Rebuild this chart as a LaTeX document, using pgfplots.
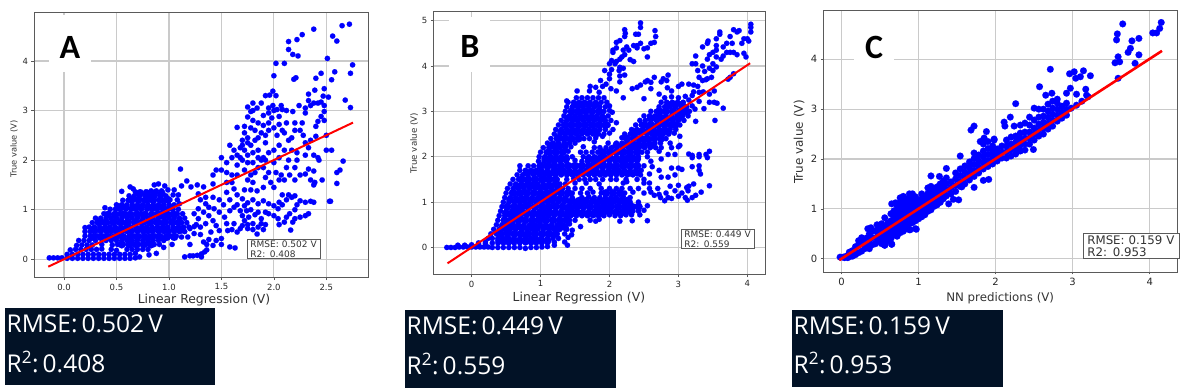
\documentclass[border=0pt]{standalone}
\usepackage{pgfplots}
\pgfplotsset{compat=1.18}
\usepackage{fontspec}
\setmainfont{DejaVu Sans}
\newfontfamily\letterfont{Carlito}
\newfontfamily\boxfont{Open Sans}
\definecolor{navy}{HTML}{021226}
\definecolor{gridc}{HTML}{CACACA}
\definecolor{framec}{HTML}{5A5A5A}
\pgfplotsset{
  base/.style={scale only axis,grid=major,clip mode=individual,
    major grid style={gridc,line width=1.2pt},
    axis line style={framec,line width=0.9pt},
    tick style={framec,line width=0.6pt},
    tick align=outside,major tick length=2.5pt,
    xtick pos=bottom,ytick pos=left,
    label style={text=black!80},
    ticklabel style={text=black!85}},
  pts/.style={only marks,mark=*,mark size=#1,mark options={fill=blue,draw=blue,line width=0.1pt},color=blue},
  fit/.style={no marks,red,line width=#1}
}
\newcommand{\dark}[5]{%
  \fill[navy] (#1,390-#2) rectangle (#3,390-#4);
  \node[anchor=base west,white,inner sep=0pt,font=\boxfont\fontsize{24.5}{24.5}\selectfont] at (#1+1.5,390-#2-25) {RMSE:\,#5\,V};
}
\begin{document}
\begin{tikzpicture}[x=1pt,y=1pt]
\useasboundingbox (0,0) rectangle (1185,390);
\begin{axis}[base,at={(34pt,112.3pt)},anchor=south west,width=334pt,height=265.4pt,
  xmin=-0.286,xmax=2.897,ymin=-0.37,ymax=4.98,
  xtick={0,0.5,1,1.5,2,2.5},xticklabels={0.0,0.5,1.0,1.5,2.0,2.5},
  ytick={0,1,2,3,4},yticklabels={0,1,2,3,4},
  ticklabel style={font=\fontsize{8.5}{10}\selectfont},
  xlabel={Linear Regression (V)},ylabel={True value (V)},
  xlabel style={at={(axis description cs:0.509,-0.084)},anchor=center,font=\fontsize{12.4}{14}\selectfont},
  ylabel style={at={(axis description cs:-0.06,0.485)},anchor=center,font=\fontsize{8.3}{10}\selectfont}]
\addplot[pts=4pt] coordinates {
(.55,.3)(.62,.3)(.69,.3)(.76,.3)(.83,.3)
(.28,.45)(.35,.45)(.42,.45)(.49,.45)(.56,.45)(.63,.45)(.7,.45)(.77,.45)(.84,.45)(.91,.45)(.98,.45)(1.05,.45)
(.28,.6)(.35,.6)(.42,.6)(.49,.6)(.56,.6)(.63,.6)(.7,.6)(.77,.6)(.84,.6)(.91,.6)(.98,.6)(1.05,.6)(1.12,.6)
(.33,.75)(.4,.75)(.47,.75)(.54,.75)(.61,.75)(.68,.75)(.75,.75)(.82,.75)(.89,.75)(.96,.75)(1.03,.75)(1.1,.75)
(.42,.9)(.49,.9)(.56,.9)(.63,.9)(.7,.9)(.77,.9)(.84,.9)(.91,.9)(.98,.9)(1.05,.9)
(.52,1.05)(.59,1.05)(.66,1.05)(.73,1.05)(.8,1.05)(.87,1.05)(.94,1.05)(1.01,1.05)
(.64,1.2)(.71,1.2)(.78,1.2)(.85,1.2)(.92,1.2)(.99,1.2)
(.72,1.33)(.79,1.33)(.86,1.33)(.93,1.33)
};
\addplot[pts=2.7pt] coordinates {
(-.14,.03)(-.1,.03)(-.06,.03)(-.02,.03)(.03,.02)(.08,.02)(.13,.02)(.18,.02)(.23,.02)(.28,.02)(.33,.02)(.38,.02)(.43,.02)(.48,.02)(.53,.02)(.58,.02)(.63,.02)(.68,.03)(.72,.05)(.81,.09)(.88,.12)
(.03,.1)(.08,.1)(.13,.1)(.18,.1)(.23,.1)(.28,.1)(.33,.1)(.38,.1)(.43,.1)(.48,.1)(.53,.1)(.58,.1)(.63,.1)(.68,.12)
(.06,.19)(.11,.2)(.16,.2)(.21,.2)(.26,.2)(.31,.2)(.36,.21)(.45,.2)(.5,.18)(.6,.2)(.65,.2)(.7,.2)(.75,.2)(.8,.2)(.95,.24)
(.12,.28)(.17,.29)(.22,.29)(.27,.29)(.36,.3)(.46,.29)(.51,.3)(.56,.3)(.61,.3)(.66,.3)(.71,.3)(.76,.3)(.81,.3)(.86,.3)(.91,.3)(1.03,.3)
(.14,.38)(.19,.38)(.24,.38)(.3,.38)(.4,.38)(.45,.38)(.5,.38)(.55,.38)(.6,.38)(.65,.38)(.7,.38)(.75,.38)(.8,.38)(.85,.38)(.9,.38)(.95,.38)
(.2,.47)(.25,.47)(.32,.47)(.37,.47)(.42,.47)(.47,.47)(.52,.47)(.57,.47)(.62,.47)(.67,.47)(.72,.47)(.77,.47)(.82,.47)(.87,.47)(.92,.47)(.97,.47)(1.02,.47)(1.07,.47)(1.12,.45)
(.2,.56)(.25,.56)(.3,.56)(.35,.56)(.4,.56)(.45,.56)(.5,.56)(.55,.56)(.6,.56)(.65,.56)(.7,.56)(.75,.56)(.8,.56)(.85,.56)(.9,.56)(.95,.56)(1,.56)(1.05,.56)(1.1,.56)(1.15,.56)
(.2,.64)(.24,.65)(.29,.65)(.34,.65)(.39,.65)(.44,.65)(.49,.65)(.54,.65)(.59,.65)(.64,.65)(.69,.65)(.74,.65)(.79,.65)(.84,.65)(.89,.65)(.94,.65)(.99,.65)(1.04,.65)(1.09,.65)(1.14,.65)(1.19,.65)(1.24,.66)
(.27,.74)(.32,.74)(.37,.74)(.42,.74)(.47,.74)(.52,.74)(.57,.74)(.62,.74)(.67,.74)(.72,.74)(.77,.74)(.82,.74)(.87,.74)(.92,.74)(.97,.74)(1.02,.74)(1.07,.74)(1.12,.74)(1.17,.74)
(.3,.83)(.35,.83)(.4,.83)(.45,.83)(.5,.83)(.55,.83)(.6,.83)(.65,.83)(.7,.83)(.75,.83)(.8,.83)(.85,.83)(.9,.83)(.95,.83)(1,.83)(1.05,.83)(1.1,.83)(1.15,.83)
(.38,.92)(.43,.92)(.48,.92)(.53,.92)(.58,.92)(.63,.92)(.68,.92)(.73,.92)(.78,.92)(.83,.92)(.88,.92)(.93,.92)(.98,.92)(1.03,.92)(1.08,.92)(1.13,.92)
(.39,1.04)(.44,1.01)(.49,1.01)(.54,1.01)(.59,1.01)(.64,1.01)(.69,1.01)(.74,1.01)(.79,1.01)(.84,1.01)(.89,1.01)(.94,1.01)(.99,1.01)(1.04,1.01)(1.09,1.01)
(.5,1.1)(.55,1.1)(.6,1.1)(.65,1.1)(.7,1.1)(.75,1.1)(.8,1.1)(.85,1.1)(.9,1.1)(.95,1.1)(1,1.1)(1.05,1.1)(1.1,1.12)
(.56,1.19)(.61,1.19)(.66,1.19)(.71,1.19)(.76,1.19)(.81,1.19)(.86,1.19)(.91,1.19)(.96,1.19)(1.01,1.2)(1.08,1.2)
(.55,1.37)(.62,1.28)(.67,1.28)(.72,1.28)(.77,1.28)(.82,1.28)(.87,1.28)(.92,1.28)(.97,1.28)(1.04,1.3)(1.09,1.3)
(.63,1.46)(.66,1.42)(.68,1.36)(.73,1.36)(.78,1.36)(.83,1.38)(.88,1.38)(.93,1.38)(.99,1.4)(1.05,1.4)
(.86,1.5)(.9,1.52)(.96,1.48)(1.11,1.82)(1.17,1.58)(1.12,1.48)(1.21,1.46)(1.27,1.5)(1.33,1.46)
(1.2,.3)(1.18,.45)(1.24,.52)(1.3,.5)(1.33,.35)(1.36,.3)(1.38,.4)(1.42,.28)(1.2,.62)(1.26,.7)(1.3,.65)(1.35,.72)(1.28,.82)(1.24,.92)(1.33,.95)(1.38,.88)(1.42,.78)(1.45,.68)(1.48,.58)(1.5,.42)(1.5,.3)(1.45,.38)(1.4,.55)(1.28,1.02)(1.35,1.12)(1.3,1.2)(1.38,1.05)(1.43,1.02)(1.48,.95)(1.53,.85)(1.55,.72)(1.56,.58)(1.6,.6)(1.65,.55)(1.62,.72)(1.58,.98)(1.62,1.05)(1.52,1.1)(1.48,1.2)(1.42,1.25)(1.35,1.25)(1.28,1.32)(1.58,1.2)(1.65,1.1)(1.68,.98)(1.7,.88)(1.72,.78)(1.75,.7)(1.7,.68)(1.68,.62)
(1.58,.25)(1.63,.23)(1.15,.05)(1.2,.07)(1.23,.07)(1.27,.08)(1.31,.11)(1.34,.15)(1.36,.19)(1.31,.05)
(1.74,.98)(1.76,.85)(1.8,.72)(1.84,.51)(1.85,.65)(1.88,.72)(1.8,.6)(1.75,.62)(1.9,.6)(1.92,.7)(1.88,.82)(1.82,.9)(1.78,1)(1.85,.95)(1.92,.95)(1.95,.92)(2,.88)(2.04,.82)(2.05,.7)(2.1,.75)(2.12,.85)(2.16,.59)(2.18,.75)(2.2,.82)(2.25,.85)(2.3,.88)(2.33,.92)(2.15,.92)(2.2,1)(2.22,1.1)(2.25,1.18)(2.3,1.15)(2.35,1.17)(2.38,1.15)(2.17,1.25)(2.12,1.2)(2.08,1.1)(2.04,1.02)(2,1.08)(2.05,1.15)(2.08,1.3)(2.14,1.3)(2.2,1.28)(1.95,1.12)(1.9,1.18)(1.85,1.12)(1.8,1.2)(1.75,1.14)(1.72,1.08)(1.7,1.22)(1.65,1.3)(1.72,1.4)(1.78,1.4)(1.84,1.38)(1.9,1.45)(1.55,1.35)(1.62,1.42)(2.53,1.17)
(1.42,1.52)(1.42,1.7)(1.45,1.8)(1.5,1.8)(1.5,2.05)(1.55,1.95)(1.55,1.75)(1.6,1.7)(1.6,1.55)(1.55,1.55)(1.65,1.7)(1.65,1.9)(1.6,2.05)(1.65,2.1)(1.58,2.3)(1.62,2.2)(1.68,2.25)(1.7,2.3)(1.72,2.2)(1.75,2.1)(1.7,2)(1.75,1.95)(1.72,1.8)(1.78,1.7)(1.75,1.6)(1.8,1.55)(1.82,1.75)(1.85,1.85)(1.8,1.95)(1.85,2.05)(1.8,2.15)(1.85,2.2)(1.78,2.3)(1.75,2.45)(1.72,2.55)(1.65,2.66)(1.72,2.68)(1.78,2.65)(1.75,2.87)(1.78,2.98)(1.75,3.07)(1.8,3)(1.8,2.8)(1.82,2.6)(1.85,2.45)(1.88,2.55)(1.9,2.7)(1.85,2.75)(1.9,2.9)(1.84,3.05)(1.88,3.15)(1.8,3.15)(1.95,3.05)(1.92,3.3)(1.95,2.95)(1.95,2.75)(1.92,2.5)(1.92,2.35)(1.95,2.15)(1.92,2)(1.9,1.85)(1.95,1.75)(1.92,1.65)(1.97,1.55)(2,1.45)(2.05,1.6)(2.02,1.75)(2,1.95)(2.05,2.05)(2,2.2)(2.05,2.3)(2.03,2.5)(2,2.65)(2.05,2.72)(2.08,2.6)(2.05,2.88)(2.03,3.02)(2.08,3.02)(2.07,3.1)(2.12,3)(2.18,2.98)(2.12,2.75)(2.1,2.55)(2.14,2.4)(2.1,2.2)(2.14,2)(2.12,1.85)(2.15,1.7)(2.07,1.7)(2.1,1.6)(2.2,1.6)(2.2,1.85)(2.22,2)(2.17,2.2)(2.22,2.15)(2.17,2.45)(2.2,2.6)(2.2,2.75)(2.25,2.6)(2.27,2.75)(2.24,3.1)(2.3,2.95)(2.3,3.05)(2.35,3.1)(2.28,2.5)(2.3,2.35)(2.33,2.25)(2.3,2.1)(2.25,1.7)(2.3,1.72)(2.33,1.82)(2.38,1.78)(2.35,1.6)(2.38,1.5)(2.39,1.55)(2.46,1.6)(2.43,2)(2.42,2.05)(2.38,2.1)(2.35,2.4)(2.4,2.48)(2.4,2.68)(2.42,2.78)(2.45,2.88)(2.48,2.8)(2.42,3.15)(2.38,3.15)(2.33,3.2)(2.45,3.17)(2.48,3.1)(2.48,2.98)(2.5,2.5)(2.5,2.2)(2.55,2.2)(2.6,1.75)(2.63,1.8)(2.66,1.98)(2.6,1.53)(2.54,1.17)
(1.75,2.35)(1.82,2.4)(1.7,2.4)(1.68,2.05)(1.88,2)(1.9,2.05)(1.95,2.6)(1.98,2.85)(2,3)(1.99,3.1)
(2.38,4.64)(2.72,4.74)(2.65,4.71)(2.56,4.5)(2.6,4.4)(2.27,4.53)(2.22,4.43)(2.14,4.39)(2.14,4.23)(2.18,4.13)(2.23,4.1)(2.51,4.05)(2.02,3.95)(2.1,3.95)(2.75,3.92)(2.58,3.78)(2.73,3.75)(2.45,3.75)(2,3.7)(2.4,3.65)(2.19,3.63)(2.21,3.66)(2.55,3.62)(2.48,3.44)(2.39,3.41)(1.99,3.39)(2.33,3.33)(1.96,3.31)(2.02,3.3)(2.52,3.27)(2.47,3.29)(2.68,3.21)(2.73,3.06)
};
\addplot[fit=2pt] coordinates {(-.15,-.148)(2.754,2.756)};
\end{axis}
\begin{axis}[base,at={(433.3pt,115.3pt)},anchor=south west,width=331.7pt,height=263.4pt,
  xmin=-0.556,xmax=4.256,ymin=-0.60,ymax=5.206,
  xtick={0,1,2,3,4},xticklabels={0,1,2,3,4},
  ytick={0,1,2,3,4,5},yticklabels={0,1,2,3,4,5},
  ticklabel style={font=\fontsize{8.5}{10}\selectfont},
  xlabel={Linear Regression (V)},ylabel={True value (V)},
  xlabel style={at={(axis description cs:0.439,-0.088)},anchor=center,font=\fontsize{12.4}{14}\selectfont},
  ylabel style={at={(axis description cs:-0.058,0.5)},anchor=center,font=\fontsize{8.7}{10}\selectfont}]
\addplot[pts=4pt] coordinates {
(.4,.15)(.5,.15)(.6,.15)(.7,.15)(.8,.15)(.9,.15)(1,.15)(1.1,.15)
(.42,.3)(.52,.3)(.62,.3)(.72,.3)(.82,.3)(.92,.3)(1.02,.3)(1.12,.3)(1.22,.3)
(.45,.45)(.55,.45)(.65,.45)(.75,.45)(.85,.45)(.95,.45)(1.05,.45)(1.15,.45)(1.25,.45)(1.35,.45)
(.48,.6)(.58,.6)(.68,.6)(.78,.6)(.88,.6)(.98,.6)(1.08,.6)(1.18,.6)(1.28,.6)(1.38,.6)
(.5,.75)(.6,.75)(.7,.75)(.8,.75)(.9,.75)(1,.75)(1.1,.75)(1.2,.75)(1.3,.75)(1.4,.75)(1.5,.75)(1.6,.75)(1.7,.75)(1.8,.75)(1.9,.75)(2,.78)(2.1,.78)(2.2,.78)(2.3,.8)
(.52,.9)(.62,.9)(.72,.9)(.82,.9)(.92,.9)(1.02,.9)(1.12,.9)(1.22,.9)(1.32,.9)(1.42,.9)(1.52,.9)(1.62,.9)(1.72,.9)(1.82,.9)(1.92,.9)(2.02,.9)(2.12,.9)(2.22,.9)(2.32,.9)(2.42,.9)
(.56,1.05)(.66,1.05)(.76,1.05)(.86,1.05)(.96,1.05)(1.06,1.05)(1.16,1.05)(1.26,1.05)(1.36,1.05)(1.46,1.03)(1.56,1.03)(1.66,1.03)(1.76,1.03)(1.86,1.03)(1.96,1.03)(2.06,1.03)(2.16,1.03)(2.26,1.03)
(.6,1.2)(.7,1.2)(.8,1.2)(.9,1.2)(1,1.2)(1.1,1.2)(1.2,1.2)(1.3,1.2)(1.4,1.2)(1.95,1.2)(2.05,1.2)(2.15,1.2)
(.65,1.35)(.75,1.35)(.85,1.35)(.95,1.35)(1.05,1.35)(1.15,1.35)(1.25,1.35)
(.72,1.5)(.82,1.5)(.92,1.5)(1.02,1.5)(1.12,1.5)(1.22,1.5)
(.8,1.65)(.9,1.65)(1,1.65)(1.1,1.65)(1.2,1.65)(1.3,1.65)(1.4,1.65)(1.5,1.65)(1.6,1.65)(1.7,1.65)(1.8,1.65)(1.9,1.65)(2,1.65)(2.1,1.65)(2.2,1.65)(2.3,1.65)(2.4,1.65)
(1,1.8)(1.1,1.8)(1.2,1.8)(1.3,1.8)(1.4,1.8)(1.5,1.8)(1.6,1.8)(1.7,1.8)(1.8,1.8)(1.9,1.8)(2,1.8)(2.1,1.8)(2.2,1.8)(2.3,1.8)(2.4,1.8)
(1.07,1.95)(1.17,1.95)(1.27,1.95)(1.37,1.95)(1.7,1.95)(1.8,1.95)(1.9,1.95)(2,1.95)(2.1,1.95)(2.2,1.95)(2.3,1.95)(2.4,1.95)
(1.12,2.1)(1.22,2.1)(1.32,2.1)(1.9,2.1)(2,2.1)(2.1,2.1)(2.2,2.1)(2.3,2.1)(2.4,2.1)
(1.15,2.25)(1.25,2.25)(1.35,2.25)(2.1,2.25)(2.2,2.25)(2.3,2.25)(2.4,2.25)(2.5,2.25)(2.6,2.25)
(1.25,2.4)(1.35,2.4)(1.45,2.4)(1.55,2.4)(2.25,2.4)(2.35,2.4)(2.45,2.4)(2.55,2.4)(2.65,2.4)(2.75,2.4)
(1.3,2.55)(1.4,2.55)(1.5,2.55)(1.6,2.55)(1.7,2.55)(1.8,2.55)(2.35,2.55)(2.45,2.55)(2.55,2.55)(2.65,2.55)(2.75,2.55)(2.85,2.55)
(1.35,2.7)(1.45,2.7)(1.55,2.7)(1.65,2.7)(1.75,2.7)(1.85,2.7)(1.95,2.7)(2.5,2.7)(2.6,2.7)(2.7,2.7)(2.8,2.7)(2.9,2.7)(2.95,2.7)
(1.4,2.85)(1.5,2.85)(1.6,2.85)(1.7,2.85)(1.8,2.85)(1.9,2.85)(2.6,2.85)(2.7,2.85)(2.8,2.85)(2.9,2.85)(3,2.85)
(1.45,3)(1.55,3)(1.65,3)(1.75,3)(1.85,3)(2.72,3)(2.82,3)(2.92,3)(3.02,3)(3.1,3)
(1.5,3.15)(1.6,3.15)(1.7,3.15)(1.8,3.15)(2.85,3.15)(2.95,3.15)(3.05,3.15)
};
\addplot[pts=2.7pt] coordinates {
(-.36,0)(-.3,0)(-.24,0)(-.18,.01)(-.12,.01)(-.06,.01)(0,.01)(.06,.01)(.12,.01)(.18,.01)(.24,.01)(.3,0)(.38,0)(.46,0)(.54,0)(.62,0)(.7,0)(.78,-.02)(.86,0)(.94,0)(1.02,.01)(1.1,.02)(1.2,.05)(1.39,.05)
(-.2,.05)(-.1,.05)(0,.06)(.1,.07)(.2,.08)
(.1,.1)(.2,.12)(.3,.1)(.38,.1)(.46,.1)(.54,.1)(.62,.1)(.7,.1)(.78,.1)(.86,.1)(.94,.1)(1.02,.1)(1.1,.1)(1.2,.12)(1.35,.12)
(.24,.2)(.3,.2)(.38,.2)(.46,.2)(.54,.2)(.62,.2)(.7,.2)(.78,.2)(.86,.2)(.94,.2)(1.02,.2)(1.1,.2)(1.18,.2)(1.26,.2)(1.4,.22)
(.28,.3)(.36,.3)(.44,.3)(.52,.3)(.6,.3)(.68,.3)(.76,.3)(.84,.3)(.92,.3)(1,.3)(1.08,.3)(1.16,.3)(1.24,.3)(1.35,.3)(1.45,.28)
(.32,.4)(.4,.4)(.48,.4)(.56,.4)(.64,.4)(.72,.4)(.8,.4)(.88,.4)(.96,.4)(1.04,.4)(1.12,.4)(1.2,.4)(1.28,.4)(1.38,.4)(1.46,.38)
(.36,.5)(.44,.5)(.52,.5)(.6,.5)(.68,.5)(.76,.5)(.84,.5)(.92,.5)(1,.5)(1.08,.5)(1.16,.5)(1.24,.5)(1.32,.5)(1.42,.52)(1.58,.46)
(.38,.6)(.46,.6)(.54,.6)(.62,.6)(.7,.6)(.78,.6)(.86,.6)(.94,.6)(1.02,.6)(1.1,.6)(1.18,.6)(1.26,.6)(1.34,.6)(1.42,.6)(1.5,.6)(1.72,.6)(1.8,.58)(1.85,.62)(2.15,.58)(2.33,.59)(2.55,.59)
(.4,.7)(.48,.7)(.56,.7)(.64,.7)(.72,.7)(.8,.7)(.88,.7)(.96,.7)(1.04,.7)(1.12,.7)(1.2,.7)(1.28,.7)(1.36,.7)(1.44,.7)(1.52,.7)(1.6,.7)(1.68,.7)(1.76,.7)(1.84,.7)(1.92,.7)(2,.72)(2.08,.7)(2.16,.7)(2.24,.72)(2.32,.72)(2.44,.72)
(.42,.8)(.5,.8)(.58,.8)(.66,.8)(.74,.8)(.82,.8)(.9,.8)(.98,.8)(1.06,.8)(1.14,.8)(1.22,.8)(1.3,.8)(1.38,.8)(1.46,.8)(1.54,.8)(1.62,.8)(1.7,.8)(1.78,.8)(1.86,.8)(1.94,.8)(2.02,.8)(2.1,.8)(2.18,.8)(2.26,.8)(2.34,.8)(2.42,.8)(2.5,.82)
(.44,.9)(.52,.9)(.6,.9)(.68,.9)(.76,.9)(.84,.9)(.92,.9)(1,.9)(1.08,.9)(1.16,.9)(1.24,.9)(1.32,.9)(1.4,.9)(1.48,.9)(1.56,.9)(1.64,.9)(1.72,.9)(1.8,.9)(1.88,.9)(1.96,.9)(2.04,.9)(2.12,.9)(2.2,.9)(2.28,.9)(2.36,.9)(2.44,.9)(2.55,.92)
(.46,1)(.54,1)(.62,1)(.7,1)(.78,1)(.86,1)(.94,1)(1.02,1)(1.1,1)(1.18,1)(1.26,1)(1.34,1)(1.42,1)(1.5,1)(1.58,1)(1.66,1)(1.74,1)(1.82,1)(1.9,1)(1.98,1)(2.06,1)(2.14,1)(2.22,1)(2.3,1)(2.42,1)(2.8,1.03)(3.13,1.04)(2.9,1.08)(3.1,1.1)
(.48,1.1)(.56,1.1)(.64,1.1)(.72,1.1)(.8,1.1)(.88,1.1)(.96,1.1)(1.04,1.1)(1.12,1.1)(1.2,1.1)(1.28,1.1)(1.36,1.1)(1.46,1.1)(1.6,1.1)(1.7,1.12)(1.78,1.1)(1.86,1.1)(1.94,1.1)(2.02,1.1)(2.1,1.1)(2.2,1.12)(2.3,1.1)(2.65,1.15)(2.74,1.1)(2.85,1.1)(3,1.13)(3.2,1.1)(3.25,1.15)(3.33,1.22)(3.45,1.36)
(.5,1.2)(.58,1.2)(.66,1.2)(.74,1.2)(.82,1.2)(.9,1.2)(.98,1.2)(1.06,1.2)(1.14,1.2)(1.22,1.2)(1.3,1.2)(1.38,1.2)(1.46,1.2)(1.58,1.2)(1.68,1.2)(1.76,1.22)(1.88,1.2)(1.96,1.2)(2.05,1.2)(2.14,1.2)(2.22,1.2)(2.34,1.22)(2.5,1.2)(2.6,1.22)(2.72,1.17)(2.82,1.2)(2.95,1.25)(3.05,1.2)(3.14,1.25)
(.52,1.3)(.6,1.3)(.68,1.3)(.76,1.3)(.84,1.3)(.92,1.3)(1,1.3)(1.08,1.3)(1.16,1.3)(1.24,1.3)(1.32,1.3)(1.4,1.3)(1.5,1.3)(1.6,1.3)(1.72,1.3)(1.88,1.3)(2,1.3)(2.1,1.3)(2.18,1.3)(2.3,1.3)(2.42,1.3)(2.58,1.3)(2.7,1.3)(2.88,1.35)(3,1.37)(3.22,1.4)
(.56,1.4)(.64,1.4)(.72,1.4)(.8,1.4)(.88,1.4)(.96,1.4)(1.04,1.4)(1.12,1.4)(1.2,1.4)(1.28,1.4)(1.36,1.4)(1.5,1.42)(1.66,1.42)(1.85,1.4)(2.2,1.42)(2.25,1.45)(2.5,1.42)(2.58,1.42)(3.15,1.35)(3.12,1.32)(3.3,1.7)(3.32,1.62)(3.42,1.98)
(.6,1.5)(.68,1.5)(.76,1.5)(.84,1.5)(.92,1.5)(1,1.5)(1.08,1.5)(1.16,1.5)(1.24,1.5)(1.38,1.5)(1.48,1.52)(1.56,1.5)(1.64,1.5)(1.72,1.5)(1.8,1.5)(1.9,1.5)(2.02,1.5)(2.1,1.5)(2.24,1.5)(2.4,1.5)(2.5,1.5)(2.75,1.55)
(.66,1.6)(.74,1.6)(.82,1.6)(.9,1.6)(.98,1.6)(1.06,1.6)(1.14,1.6)(1.22,1.6)(1.3,1.6)(1.38,1.6)(1.46,1.6)(1.54,1.6)(1.62,1.6)(1.7,1.6)(1.78,1.6)(1.86,1.6)(1.94,1.6)(2.02,1.6)(2.1,1.6)(2.18,1.6)(2.26,1.6)(2.34,1.6)(2.45,1.6)(2.58,1.62)(2.85,1.55)(2.95,1.6)
(.7,1.7)(.78,1.7)(.86,1.7)(.94,1.7)(1.02,1.7)(1.1,1.7)(1.18,1.7)(1.26,1.7)(1.34,1.7)(1.42,1.7)(1.5,1.7)(1.58,1.7)(1.66,1.7)(1.74,1.7)(1.82,1.7)(1.9,1.7)(1.98,1.7)(2.06,1.7)(2.14,1.7)(2.22,1.7)(2.3,1.7)(2.38,1.7)(2.46,1.7)(2.72,1.7)(3.05,1.72)(3.2,1.78)(3.3,1.8)
(.7,1.8)(.82,1.8)(.9,1.8)(.98,1.8)(1.06,1.8)(1.14,1.8)(1.22,1.8)(1.3,1.8)(1.38,1.8)(1.46,1.8)(1.54,1.8)(1.62,1.8)(1.7,1.8)(1.78,1.8)(1.86,1.8)(1.94,1.8)(2.02,1.8)(2.1,1.8)(2.18,1.8)(2.26,1.8)(2.34,1.8)(2.42,1.8)(2.5,1.8)(2.62,1.78)(2.9,1.75)(3,1.75)
(.97,1.9)(1.05,1.9)(1.13,1.9)(1.21,1.9)(1.29,1.9)(1.37,1.9)(1.5,1.92)(1.6,1.9)(1.68,1.9)(1.76,1.9)(1.84,1.9)(1.92,1.9)(2,1.9)(2.08,1.9)(2.16,1.9)(2.24,1.9)(2.32,1.9)(2.4,1.9)(2.6,1.9)(2.75,1.95)(3.2,1.98)(3.3,2)
(.98,2)(1.06,2)(1.14,2)(1.22,2)(1.3,2)(1.38,2)(1.46,2)(1.62,2)(1.7,2)(1.78,2)(1.86,2)(1.94,2)(2.02,2)(2.1,2)(2.18,2)(2.26,2)(2.34,2)(2.42,2)(2.55,2)(2.85,2.05)(2.95,2.05)(3.15,2.06)(3.2,2.03)(3.3,2.05)(3.4,2.05)(3.45,2.12)
(1,2.1)(1.08,2.1)(1.16,2.1)(1.24,2.1)(1.32,2.1)(1.4,2.12)(1.58,2.1)(1.66,2.1)(1.75,2.1)(1.83,2.1)(1.91,2.1)(1.99,2.1)(2.07,2.1)(2.15,2.1)(2.23,2.1)(2.31,2.1)(2.39,2.1)(2.47,2.1)(2.55,2.1)(2.72,2.12)
(1.04,2.2)(1.12,2.2)(1.2,2.2)(1.28,2.2)(1.36,2.2)(1.44,2.22)(1.62,2.22)(1.78,2.2)(1.86,2.2)(1.95,2.2)(2.03,2.2)(2.11,2.2)(2.19,2.2)(2.27,2.2)(2.35,2.2)(2.43,2.2)(2.51,2.2)(2.59,2.2)(2.67,2.2)(2.75,2.2)(2.9,2.2)(3,2.22)
(1.1,2.3)(1.18,2.3)(1.26,2.3)(1.34,2.3)(1.42,2.3)(1.5,2.3)(1.78,2.33)(1.98,2.3)(2.1,2.3)(2.18,2.3)(2.26,2.3)(2.34,2.3)(2.42,2.3)(2.5,2.3)(2.58,2.3)(2.66,2.3)(2.74,2.3)(2.88,2.3)(3.02,2.25)
(1.15,2.4)(1.23,2.4)(1.31,2.4)(1.39,2.4)(1.47,2.4)(1.55,2.4)(1.63,2.4)(1.71,2.4)(1.8,2.42)(1.9,2.45)(2.18,2.42)(2.26,2.4)(2.34,2.4)(2.42,2.4)(2.5,2.4)(2.58,2.4)(2.66,2.4)(2.74,2.4)(2.82,2.4)(3.02,2.45)
(1.2,2.5)(1.28,2.5)(1.36,2.5)(1.44,2.5)(1.52,2.5)(1.6,2.5)(1.68,2.5)(1.76,2.5)(1.84,2.5)(1.92,2.5)(2,2.52)(2.22,2.5)(2.3,2.5)(2.38,2.5)(2.46,2.5)(2.54,2.5)(2.62,2.5)(2.7,2.5)(2.78,2.5)(2.86,2.5)(2.94,2.52)
(1.22,2.6)(1.3,2.6)(1.38,2.6)(1.46,2.6)(1.54,2.6)(1.62,2.6)(1.7,2.6)(1.78,2.6)(1.86,2.6)(1.94,2.6)(2.05,2.6)(2.32,2.6)(2.4,2.6)(2.48,2.6)(2.56,2.6)(2.64,2.6)(2.72,2.6)(2.8,2.6)(2.88,2.6)(2.96,2.6)
(1.26,2.7)(1.34,2.7)(1.42,2.7)(1.5,2.7)(1.58,2.7)(1.66,2.7)(1.74,2.7)(1.82,2.7)(1.9,2.7)(1.98,2.7)(2.1,2.75)(2.38,2.7)(2.46,2.7)(2.54,2.7)(2.62,2.7)(2.7,2.7)(2.78,2.7)(2.86,2.7)(2.94,2.7)(3.02,2.7)
(1.3,2.8)(1.38,2.8)(1.46,2.8)(1.54,2.8)(1.62,2.8)(1.7,2.8)(1.78,2.8)(1.86,2.8)(1.94,2.8)(2.02,2.8)(2.44,2.8)(2.52,2.8)(2.6,2.8)(2.68,2.8)(2.76,2.8)(2.84,2.8)(2.92,2.8)(3,2.8)(3.08,2.8)(3.25,2.78)(3.53,2.8)
(1.34,2.9)(1.42,2.9)(1.5,2.9)(1.58,2.9)(1.66,2.9)(1.74,2.9)(1.82,2.9)(1.9,2.9)(1.98,2.9)(2.04,2.98)(2.5,2.9)(2.58,2.9)(2.66,2.9)(2.74,2.9)(2.82,2.9)(2.9,2.9)(2.98,2.9)(3.06,2.9)(3.14,2.9)
(1.36,3)(1.44,3)(1.52,3)(1.6,3)(1.68,3)(1.76,3)(1.84,3)(1.92,3)(2,3.02)(2.6,3)(2.68,3)(2.76,3)(2.84,3)(2.92,3)(3,3)(3.08,3)(3.16,3)(3.24,3.05)(3.37,3.06)(3.65,3.07)
(1.38,3.1)(1.46,3.1)(1.54,3.1)(1.62,3.1)(1.7,3.1)(1.78,3.1)(1.86,3.1)(1.94,3.1)(2,3.12)(2.72,3.1)(2.8,3.1)(2.88,3.1)(2.96,3.1)(3.04,3.1)(3.12,3.1)(3.2,3.12)(3.45,3.2)(3.52,3.2)(3.56,3.18)
(1.4,3.2)(1.48,3.2)(1.56,3.2)(1.64,3.2)(1.72,3.2)(1.8,3.2)(1.88,3.2)(1.96,3.2)(2.75,3.2)(2.83,3.2)(2.91,3.2)(2.99,3.2)(3.07,3.2)(3.15,3.25)(3.3,3.22)
(1.38,3.23)(1.52,3.3)(1.6,3.3)(1.68,3.3)(1.76,3.3)(1.84,3.3)(1.92,3.3)(2.8,3.3)(2.9,3.32)(3,3.3)(3.1,3.33)(3.2,3.35)(3.22,3.43)(3.3,3.42)(3.36,3.43)
(1.53,3.45)(1.71,3.45)(1.85,3.42)(1.72,3.55)(1.8,3.53)(1.9,3.55)(2.1,3.45)(2.2,3.3)(2.02,3.5)(1.95,3.6)(1.87,3.68)(2,3.72)(1.93,3.9)(2,3.82)(2.15,3.65)(2.15,3.78)(2.33,3.5)(2.4,3.53)(2.45,3.58)(2.52,3.65)(2.55,3.68)(2.6,3.64)(2.65,3.75)(2.75,3.65)(2.83,3.68)(2.85,3.8)(2.78,3.72)(2.5,3.28)(2.72,3.38)(2.6,3.5)(2.84,3.52)(2.9,3.45)(3,3.55)(3.05,3.6)(3.15,3.6)(3.22,3.58)(3.28,3.55)(3.42,3.72)(3.48,3.75)(3.52,3.45)(3.45,3.38)(3.72,3.71)(3.75,3.75)(3.8,3.83)(3.3,3.75)(3.35,3.68)(3.4,3.7)
(2.03,3.92)(2.14,3.9)(2.15,3.97)(2.2,3.95)(2.22,3.8)(2,4.05)(2.03,4.12)(2.08,4.05)(2.1,4.1)(2.15,4.15)(2.18,4.2)(2.22,4.25)(2.28,4.35)(2.05,4.3)(2.1,4.4)(2.05,4.35)(2.15,4.56)(2.1,4.52)(2.2,4.35)(2.25,4.42)(2.3,4.14)(2.35,4.1)(2.35,4.45)(2.4,4.45)(2.42,4.7)(2.38,4.7)(2.45,4.85)(2.45,4.95)(2.55,4.4)(2.45,4.5)(2.55,4.2)(2.6,4.5)(2.65,4.52)(2.67,4.65)(2.66,4.78)(2.5,4.38)(2.22,4.8)(2.23,4.72)(2.22,4.65)(2.4,4.4)
(3.25,4.22)(3.35,4.42)(3.43,4.55)(3.42,4.5)(3.2,4.05)(3.25,4.05)(3.35,4)(3.42,4.15)(3.45,4.25)(3.5,4.3)(3.55,4.2)(3.55,4.35)(3.55,4.45)(3.55,4.6)(3.6,4.7)(3.6,4.75)(3.65,4.42)(3.7,4.5)(3.65,4.22)(3.75,4.3)(3.8,4.3)(3.78,4.5)(3.75,4.65)(3.8,4.8)(3.85,4.75)(3.88,4.78)(3.92,4.5)(3.95,4.28)(3.98,4.2)(4,4.6)(4.05,4.75)(4.02,4.55)(4.05,4.85)(4.05,4.92)(3.95,4.6)(3.85,4.25)(3.7,4.3)(3.62,4.15)(3.5,4.05)(3.45,3.95)(3.28,3.9)(3.38,3.88)(3.5,3.9)(3.55,3.98)
};
\addplot[fit=2pt] coordinates {(-.35,-.35)(4.04,4.06)};
\end{axis}
\begin{axis}[base,at={(823.3pt,118pt)},anchor=south west,width=354.4pt,height=262pt,
  xmin=-0.238,xmax=4.364,ymin=-0.268,ymax=4.99,
  xtick={0,1,2,3,4},xticklabels={0,1,2,3,4},
  ytick={0,1,2,3,4},yticklabels={0,1,2,3,4},
  ticklabel style={font=\fontsize{10}{12}\selectfont},
  xlabel={NN predictions (V)},ylabel={True value (V)},
  xlabel style={at={(axis description cs:0.499,-0.099)},anchor=center,font=\fontsize{11.8}{13}\selectfont},
  ylabel style={at={(axis description cs:-0.0686,0.496)},anchor=center,font=\fontsize{12}{14}\selectfont}]
\addplot[pts=3.4pt] coordinates {
(-.02,.03)(.02,.03)(.04,.02)(.06,.05)(.08,.02)(.1,.04)(.1,.13)(.14,.05)(.14,.16)(.18,.08)(.18,.24)(.22,.12)(.22,.28)(.22,.36)(.26,.15)(.26,.3)(.26,.42)(.3,.2)(.3,.36)(.33,.25)(.33,.42)(.36,.2)(.36,.32)(.36,.5)(.34,.6)(.38,.62)(.4,.28)(.4,.42)(.4,.55)(.44,.3)(.44,.42)(.44,.56)(.48,.35)(.48,.48)(.48,.62)(.46,.68)(.52,.3)(.52,.42)(.52,.55)(.52,.7)(.56,.27)(.56,.4)(.56,.52)(.56,.65)(.56,.82)(.6,.36)(.6,.48)(.6,.6)(.6,.72)(.64,.4)(.65,.29)(.64,.52)(.64,.64)(.64,.76)(.64,.9)(.68,.48)(.68,.6)(.68,.72)(.68,.84)(.68,.96)(.65,1.1)(.7,1.12)
(.72,.45)(.72,.58)(.72,.7)(.72,.82)(.72,.94)(.72,1.06)(.76,.52)(.76,.64)(.76,.76)(.76,.88)(.76,1)(.76,1.12)(.76,1.22)(.8,.55)(.8,.68)(.8,.8)(.8,.92)(.8,1.04)(.8,1.16)(.8,1.25)(.84,.6)(.84,.72)(.84,.84)(.84,.96)(.84,1.08)(.84,1.2)(.88,.58)(.88,.7)(.88,.82)(.88,.94)(.88,1.06)(.88,1.18)(.88,1.3)(.92,.72)(.92,.84)(.92,.96)(.92,1.08)(.92,1.2)(.92,1.3)(.96,.6)(.96,.76)(.96,.88)(.96,1)(.96,1.12)(.96,1.24)(1,.8)(1,.92)(1,1.04)(1,1.16)(1.04,.84)(1.04,.96)(1.04,1.08)(1.04,1.2)(1.04,1.3)
(1.08,.88)(1.08,1)(1.08,1.12)(1.08,1.24)(1.12,.95)(1.12,1.07)(1.12,1.19)(1.12,1.31)(1.12,1.42)(1.16,.98)(1.16,1.1)(1.16,1.22)(1.16,1.34)(1.16,1.45)(1.16,1.66)(1.2,1.05)(1.2,1.17)(1.2,1.29)(1.2,1.41)(1.24,1.08)(1.24,1.2)(1.24,1.32)(1.24,1.44)(1.27,1.65)(1.28,1.13)(1.28,1.25)(1.28,1.37)(1.28,1.5)(1.32,1.2)(1.32,1.32)(1.32,1.44)(1.32,1.56)(1.36,1.26)(1.36,1.38)(1.36,1.5)(1.36,1.62)(1.36,1.81)(1.39,1.1)(1.45,1.19)(1.52,1.18)(1.42,1.3)(1.42,1.42)(1.42,1.54)(1.48,1.35)(1.48,1.47)(1.48,1.6)(1.48,1.72)(1.54,1.45)(1.54,1.55)(1.54,1.67)(1.54,1.8)(1.54,2.06)(1.56,1.44)(1.6,1.5)(1.6,1.62)(1.6,1.74)(1.6,1.86)
(1.66,1.58)(1.66,1.7)(1.66,1.82)(1.66,1.94)(1.72,1.43)(1.72,1.65)(1.72,1.77)(1.72,1.89)(1.72,2.01)(1.72,2.12)(1.78,1.72)(1.78,1.84)(1.78,1.96)(1.78,2.08)(1.84,1.57)(1.84,1.8)(1.84,1.92)(1.84,2.04)(1.84,2.16)(1.84,2.3)(1.9,1.85)(1.91,1.59)(1.9,1.97)(1.9,2.09)(1.9,2.21)(1.9,2.35)(1.96,1.9)(1.96,2.02)(1.96,2.14)(1.96,2.26)(1.98,2.4)(2.02,1.96)(2.02,2.08)(2.02,2.2)(2.08,2.02)(2.08,2.14)(2.08,2.26)(2.14,2.02)(2.14,2.14)(2.14,2.26)(2.14,2.38)(2.2,2.06)(2.2,2.18)(2.2,2.3)(2.2,2.44)(2.26,2.1)(2.26,2.22)(2.26,2.34)(2.26,2.46)(2.32,2.16)(2.32,2.28)(2.32,2.4)(2.32,2.52)(2.32,2.68)(2.38,2.18)(2.38,2.3)(2.38,2.42)(2.38,2.54)(2.38,2.72)(2.44,2.3)(2.44,2.42)(2.44,2.54)(2.44,2.68)(2.44,2.84)(2.49,2.19)(2.5,2.38)(2.5,2.5)(2.5,2.62)(2.5,2.78)(2.5,3.02)(2.56,2.46)(2.56,2.58)(2.56,2.7)(2.56,2.84)(2.56,3)(2.62,2.5)(2.62,2.62)(2.62,2.74)(2.62,2.86)(2.62,3)(2.68,2.6)(2.68,2.72)(2.68,2.84)(2.68,2.96)(2.68,3.1)(2.74,2.66)(2.74,2.78)(2.74,2.9)(2.74,3.02)(2.74,3.16)(2.8,2.76)(2.8,2.88)(2.8,3)(2.8,3.12)(2.8,3.2)(2.86,2.82)(2.86,2.94)(2.86,3.06)(2.92,2.88)(2.92,3)(2.92,3.12)(2.98,3.02)(3.05,3.08)(3.12,3.16)(3.2,3.25)
(.89,.58)(.97,.59)(.65,.29)(.56,.27)
(3.65,4.71)(3.58,4.51)(3.57,4.39)(3.86,4.42)(3.77,4.37)(3.75,4.22)(3.72,4.14)(3.86,4.09)(3.59,4.05)(3.61,3.95)(3.55,3.93)(3.81,3.92)(3.59,3.62)(4.15,4.74)(4.13,4.62)(4.09,4.53)(4.04,4.53)(2.71,3.8)(2.96,3.71)(3.02,3.75)(3.14,3.77)(3.04,3.62)(3.1,3.65)(3.23,3.67)(2.57,3.45)(2.97,3.42)(3.17,3.4)(2.92,3.32)(3.05,3.3)(3.18,3.28)(2.65,3.28)(2.73,3.32)(2.26,3.11)(2.19,2.84)(2.11,2.74)(2.12,2.66)(2.24,2.66)(1.72,2.66)(1.68,2.58)(1.88,2.55)(1.8,2.35)(1.85,2.42)(1.98,2.38)
};
\addplot[fit=2.6pt] coordinates {(-.03,-.03)(4.16,4.17)};
\end{axis}
% white patches and letters
\fill[white] (49,390-15) rectangle (91,390-72);
\fill[white] (449,390-17) rectangle (490,390-72);
\fill[white] (854,390-14) rectangle (894,390-62);
\node[font=\letterfont\bfseries\fontsize{34}{34}\selectfont] at (70,343) {A};
\node[font=\letterfont\bfseries\fontsize{34}{34}\selectfont] at (470,344) {B};
\node[font=\letterfont\bfseries\fontsize{34}{34}\selectfont] at (874,343) {C};
% inset stat boxes
\node[draw=framec,fill=white,line width=0.7pt,anchor=north west,inner xsep=3pt,inner ysep=1.5pt,align=left,text width=67pt,font=\fontsize{9}{9.5}\selectfont,text=black!80] at (247,390-239) {RMSE: 0.502 V\\R2: 0.408};
\node[draw=framec,fill=white,line width=0.7pt,anchor=north west,inner xsep=3pt,inner ysep=1.5pt,align=left,text width=67pt,font=\fontsize{9}{9.5}\selectfont,text=black!80] at (681,390-229) {RMSE: 0.449 V\\R2: 0.559};
\node[draw=framec,fill=white,line width=0.7pt,anchor=north west,inner xsep=4pt,inner ysep=2pt,align=left,text width=88pt,font=\fontsize{11.8}{12.3}\selectfont,text=black!80] at (1083,390-233) {RMSE: 0.159 V\\R2: 0.953};
% dark boxes
\dark{5}{308}{215}{385}{0.502}
\node[anchor=base west,white,inner sep=0pt,font=\boxfont\fontsize{24.5}{24.5}\selectfont] at (6.5,390-372.7) {R\textsuperscript{2}:\,0.408};
\dark{405}{310}{616}{388}{0.449}
\node[anchor=base west,white,inner sep=0pt,font=\boxfont\fontsize{24.5}{24.5}\selectfont] at (406.5,390-375) {R\textsuperscript{2}:\,0.559};
\dark{792}{310}{1003}{387}{0.159}
\node[anchor=base west,white,inner sep=0pt,font=\boxfont\fontsize{24.5}{24.5}\selectfont] at (793.5,390-374) {R\textsuperscript{2}:\,0.953};
\end{tikzpicture}
\end{document}
